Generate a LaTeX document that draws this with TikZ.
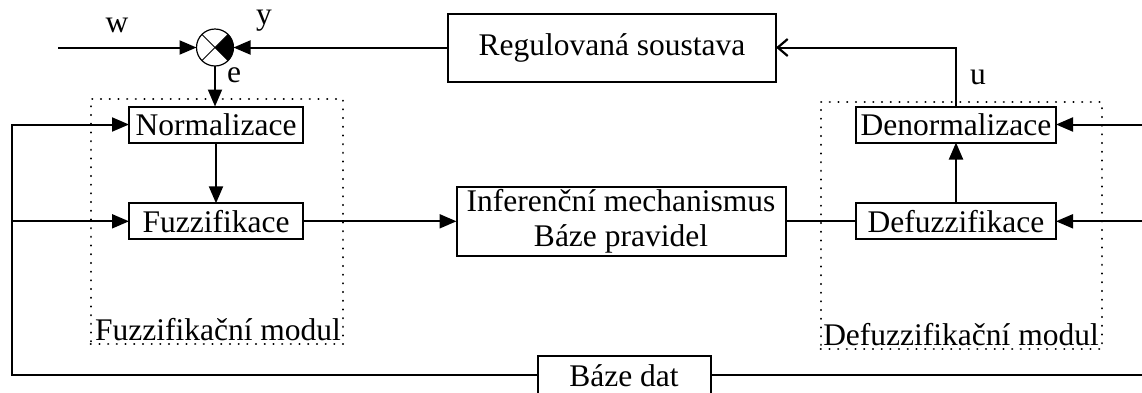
\documentclass[tikz,border=0pt]{standalone}
\usepackage{fontspec}
\setmainfont{Liberation Serif}
\usetikzlibrary{arrows.meta}
\begin{document}
\begin{tikzpicture}[x=1pt,y=-1pt,
  every node/.style={font=\fontsize{31.5}{35}\selectfont, inner sep=0pt, outer sep=0pt},
  block/.style={draw, line width=2pt, rectangle, align=center},
  modul/.style={draw, rectangle, line width=2.2pt, dash pattern=on 0.1pt off 8.6pt, line cap=round},
  conn/.style={line width=2pt},
  arr/.style={conn, -{Triangle[length=17pt,width=14pt]}},
  openarr/.style={conn, -{Straight Barb[length=10pt,width=17pt,line width=2.2pt]}}
]
\useasboundingbox (0,0) rectangle (1142,392);
\clip (0,0) rectangle (1142,392);

% summing junction
\node[circle, draw, line width=1.2pt, minimum size=37pt] (sum) at (215,47.5) {};
\fill (sum.center) -- (sum.45) arc[start angle=45, end angle=-45, radius=18.5pt] -- cycle;
\draw[line width=0.9pt] (sum.135) -- (sum.-45);
\draw[line width=0.9pt] (sum.45) -- (sum.-135);

% blocks
\node[block, minimum width=328pt, minimum height=68pt] (reg) at (612,47.5) {Regulovaná soustava};
\node[block, minimum width=174pt, minimum height=36pt] (norm) at (216,124.5) {Normalizace};
\node[block, minimum width=174pt, minimum height=36pt] (fuzz) at (216,221.3) {Fuzzifikace};
\node[block, minimum width=329pt, minimum height=69pt] (inf) at (621,221.3) {Inferenční mechanismus\\Báze pravidel};
\node[block, minimum width=200pt, minimum height=36pt] (denorm) at (956,124.5) {Denormalizace};
\node[block, minimum width=200pt, minimum height=36pt] (defuzz) at (956,221.3) {Defuzzifikace};
\node[block, minimum width=173pt, minimum height=40pt, text depth=0pt] (db) at (624,376) {Báze dat};

% module frames
\node[modul, minimum width=252.6pt, minimum height=244.7pt] (fmod) at (217,221.65) {};
\node[modul, minimum width=281pt, minimum height=247.6pt] (dmod) at (961.2,225.5) {};
\node[anchor=base] (fmodlbl) at (218,340) {Fuzzifikační modul};
\node[anchor=base] (dmodlbl) at (961,345) {Defuzzifikační modul};

% signal labels
\node (lw) at (117,25) {w};
\node (ly) at (264,21) {y};
\node (le) at (234,75) {e};
\node (lu) at (978,77) {u};

% free ends
\coordinate (win) at (58,47.5);
\coordinate (lc) at (11.5,375);
\coordinate (rout) at (1142,375);
\coordinate (rin1) at (1142,124.5);
\coordinate (rin2) at (1142,221.3);

% connections
\draw[arr] (win) -- (sum.west);
\draw[arr] (reg.west) -- (sum.east);
\draw[arr] (sum.south) -- (sum.south |- norm.north);
\draw[openarr] (denorm.north) |- (reg.east);
\draw[arr] (norm) -- (fuzz);
\draw[arr] (fuzz) -- (inf);
\draw[conn] (inf) -- (defuzz);
\draw[arr] (defuzz) -- (denorm);
\draw[arr] (rin1) -- (denorm.east);
\draw[arr] (rin2) -- (defuzz.east);
\draw[arr] (db.west |- lc) -- (lc) |- (norm.west);
\draw[arr] (lc |- fuzz.west) -- (fuzz.west);
\draw[conn] (db.east |- rout) -- (rout);
\end{tikzpicture}
\end{document}
